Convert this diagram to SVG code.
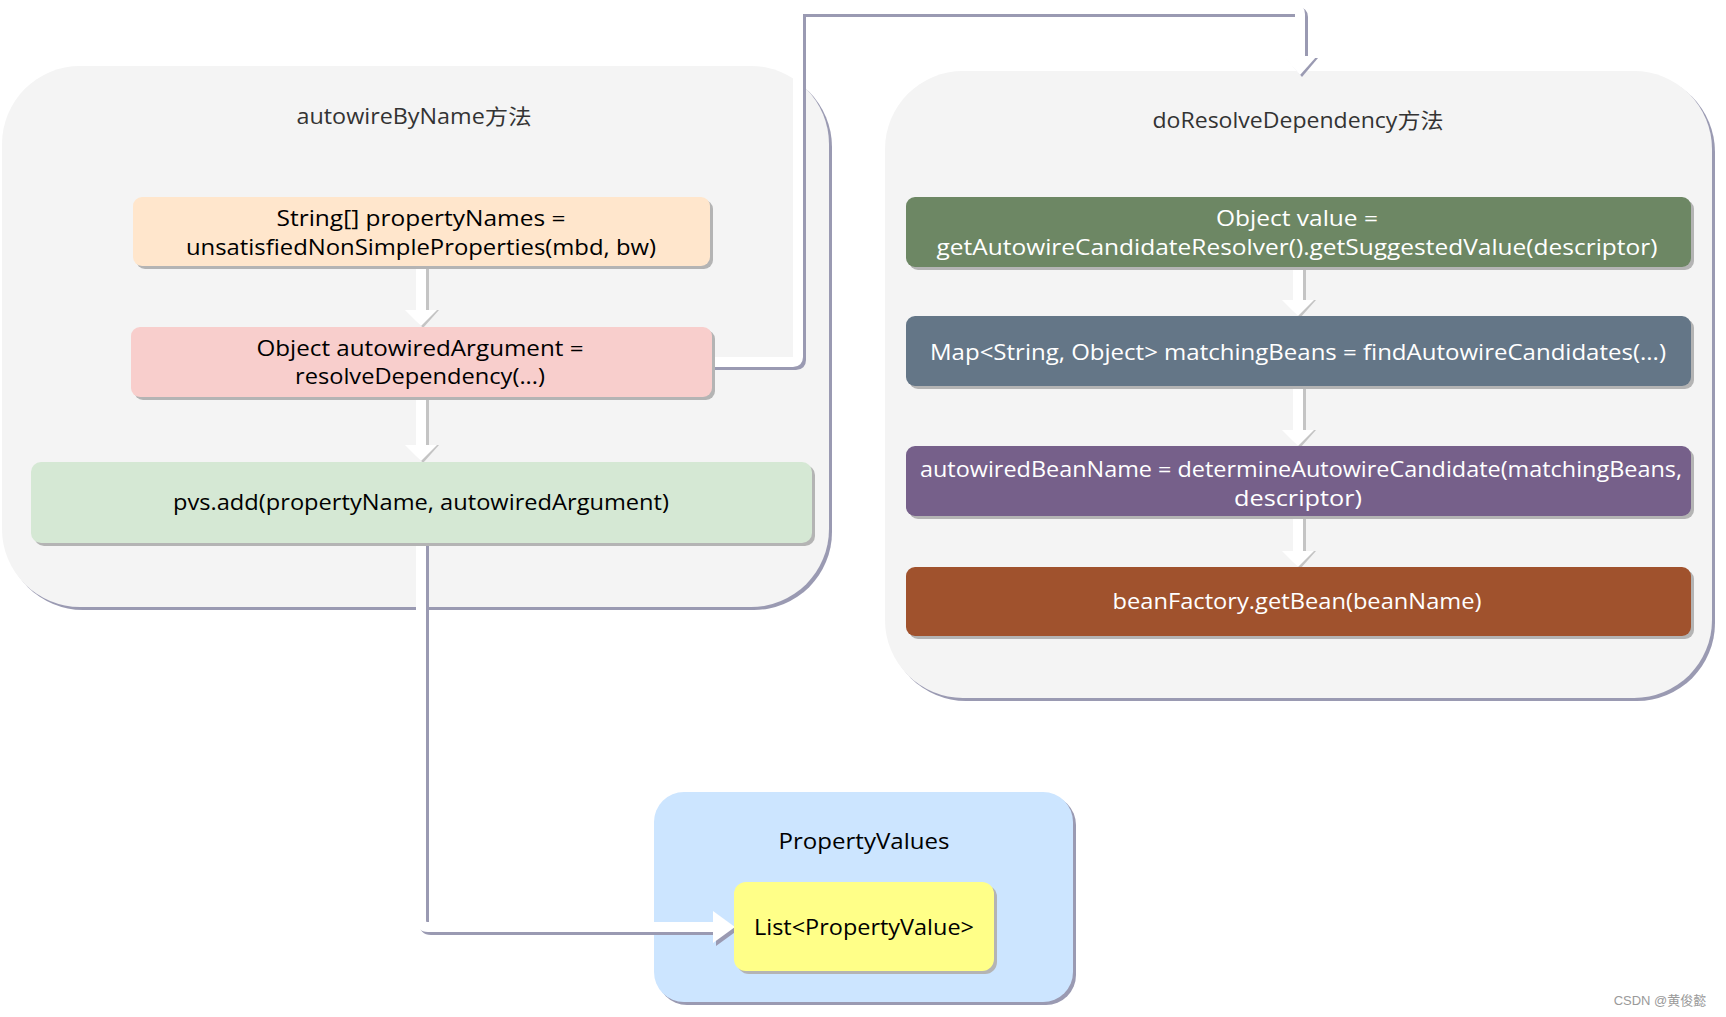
<svg xmlns="http://www.w3.org/2000/svg" width="1726" height="1017" viewBox="0 0 1726 1017">
<defs>
<style>
.cont{fill:#f4f4f4}
.cshadow{fill:#9a9ab2}
.bshadow{fill:#b4b4b4}
.t{font-family:"Open Sans","Noto Sans CJK SC",sans-serif;font-size:21px;text-anchor:middle;fill:#000}
.tw{fill:#ffffff}
.title{font-family:"Open Sans","Noto Sans CJK SC",sans-serif;font-size:21px;text-anchor:middle;fill:#333333}
.cw{fill:none;stroke:#ffffff;stroke-width:10;stroke-linejoin:round}
.cs{fill:none;stroke:#9a9ab2;stroke-width:10;stroke-linejoin:round}
.aw{fill:#ffffff}
.as{fill:#c4c4c4}
.asd{fill:#9a9ab2}
.shaft{fill:#ffffff}
</style>
</defs>
<rect width="1726" height="1017" fill="#ffffff"/>

<g id="autowireByName">
<rect class="cshadow" x="5" y="69" width="827" height="541" rx="78"/>
<rect class="cont" x="2" y="66" width="827" height="541" rx="78"/>
<text class="title" x="414" y="124" textLength="235" lengthAdjust="spacingAndGlyphs">autowireByName方法</text>
</g>

<g id="doResolveDependency">
<rect class="cshadow" x="888" y="74" width="827" height="627" rx="78"/>
<rect class="cont" x="885" y="71" width="827" height="627" rx="78"/>
<text class="title" x="1298" y="128" textLength="291" lengthAdjust="spacingAndGlyphs">doResolveDependency方法</text>
</g>

<g id="PropertyValues">
<rect class="cshadow" x="657" y="795" width="419" height="210" rx="30"/>
<rect x="654" y="792" width="419" height="210" rx="30" fill="#cce5ff"/>
<text class="t" x="864" y="849" textLength="171" lengthAdjust="spacingAndGlyphs">PropertyValues</text>
</g>

<g id="connectors">
<rect class="as" x="419" y="267" width="10" height="43"/>
<rect class="shaft" x="416" y="267" width="10" height="43"/>
<polygon class="as" points="407,310 439,310 423,328"/>
<polygon class="aw" points="405,310 437,310 421,326"/>
<rect class="as" x="419" y="397" width="10" height="48"/>
<rect class="shaft" x="416" y="397" width="10" height="48"/>
<polygon class="as" points="407,445 439,445 423,463"/>
<polygon class="aw" points="405,445 437,445 421,461"/>
<rect class="as" x="1296" y="267" width="10" height="33"/>
<rect class="shaft" x="1293" y="267" width="10" height="33"/>
<polygon class="as" points="1284,300 1316,300 1300,318"/>
<polygon class="aw" points="1282,300 1314,300 1298,316"/>
<rect class="as" x="1296" y="386" width="10" height="44"/>
<rect class="shaft" x="1293" y="386" width="10" height="44"/>
<polygon class="as" points="1284,430 1316,430 1300,448"/>
<polygon class="aw" points="1282,430 1314,430 1298,446"/>
<rect class="as" x="1296" y="516" width="10" height="35"/>
<rect class="shaft" x="1293" y="516" width="10" height="35"/>
<polygon class="as" points="1284,551 1316,551 1300,569"/>
<polygon class="aw" points="1282,551 1314,551 1298,567"/>
<path class="cs" transform="translate(3,3)" d="M712,362 H793 Q798,362 798,357 V14 Q798,9 803,9 H1295 Q1300,9 1300,14 V56"/>
<path class="cw" d="M712,362 H793 Q798,362 798,357 V14 Q798,9 803,9 H1295 Q1300,9 1300,14 V56"/>
<polygon class="asd" points="1286,58 1318,58 1302,77"/>
<polygon class="aw" points="1283,56 1317,56 1300,75"/>
<path class="cs" transform="translate(3,3)" d="M421,543 V920 Q421,927 428,927 H713"/>
<path class="cw" d="M421,543 V920 Q421,927 428,927 H713"/>
<polygon class="asd" points="716,914 716,946 738,930"/>
<polygon class="aw" points="713,911 713,943 735,927"/>
</g>

<g id="box-propertyNames">
<rect class="bshadow" x="136" y="200" width="577" height="69" rx="9"/>
<rect x="133" y="197" width="577" height="69" rx="9" fill="#ffe6cc"/>
<text class="t" x="421" y="226" textLength="289" lengthAdjust="spacingAndGlyphs">String[] propertyNames =</text>
<text class="t" x="421" y="255" textLength="470" lengthAdjust="spacingAndGlyphs">unsatisfiedNonSimpleProperties(mbd, bw)</text>
</g>

<g id="box-autowiredArgument">
<rect class="bshadow" x="134" y="330" width="581" height="70" rx="9"/>
<rect x="131" y="327" width="581" height="70" rx="9" fill="#f8cecc"/>
<text class="t" x="420" y="356" textLength="327" lengthAdjust="spacingAndGlyphs">Object autowiredArgument =</text>
<text class="t" x="420" y="384" textLength="250" lengthAdjust="spacingAndGlyphs">resolveDependency(...)</text>
</g>

<g id="box-pvsadd">
<rect class="bshadow" x="34" y="465" width="781" height="81" rx="10"/>
<rect x="31" y="462" width="781" height="81" rx="10" fill="#d5e8d4"/>
<text class="t" x="421" y="510" textLength="496" lengthAdjust="spacingAndGlyphs">pvs.add(propertyName, autowiredArgument)</text>
</g>

<g id="box-value">
<rect class="bshadow" x="909" y="200" width="785" height="70" rx="9"/>
<rect x="906" y="197" width="785" height="70" rx="9" fill="#6d8764"/>
<text class="t tw" x="1297" y="226" textLength="162" lengthAdjust="spacingAndGlyphs">Object value =</text>
<text class="t tw" x="1297" y="255" textLength="721" lengthAdjust="spacingAndGlyphs">getAutowireCandidateResolver().getSuggestedValue(descriptor)</text>
</g>

<g id="box-matchingBeans">
<rect class="bshadow" x="909" y="319" width="785" height="70" rx="9"/>
<rect x="906" y="316" width="785" height="70" rx="9" fill="#647687"/>
<text class="t tw" x="1298" y="360" textLength="736" lengthAdjust="spacingAndGlyphs">Map&lt;String, Object&gt; matchingBeans = findAutowireCandidates(...)</text>
</g>

<g id="box-autowiredBeanName">
<rect class="bshadow" x="909" y="449" width="785" height="70" rx="9"/>
<rect x="906" y="446" width="785" height="70" rx="9" fill="#76608a"/>
<text class="t tw" x="1301" y="477" textLength="762" lengthAdjust="spacingAndGlyphs">autowiredBeanName = determineAutowireCandidate(matchingBeans,</text>
<text class="t tw" x="1298" y="506" textLength="128" lengthAdjust="spacingAndGlyphs">descriptor)</text>
</g>

<g id="box-getBean">
<rect class="bshadow" x="909" y="570" width="785" height="69" rx="9"/>
<rect x="906" y="567" width="785" height="69" rx="9" fill="#a0522d"/>
<text class="t tw" x="1297" y="609" textLength="369" lengthAdjust="spacingAndGlyphs">beanFactory.getBean(beanName)</text>
</g>

<g id="box-list">
<rect class="bshadow" x="737" y="885" width="260" height="89" rx="12"/>
<rect x="734" y="882" width="260" height="89" rx="12" fill="#ffff88"/>
<text class="t" x="864" y="935" textLength="220" lengthAdjust="spacingAndGlyphs">List&lt;PropertyValue&gt;</text>
</g>

<text x="1660" y="1005" font-family="'Liberation Sans','Noto Sans CJK SC',sans-serif" font-size="13" fill="#9a9a9a" text-anchor="middle">CSDN @黄俊懿</text>
</svg>
